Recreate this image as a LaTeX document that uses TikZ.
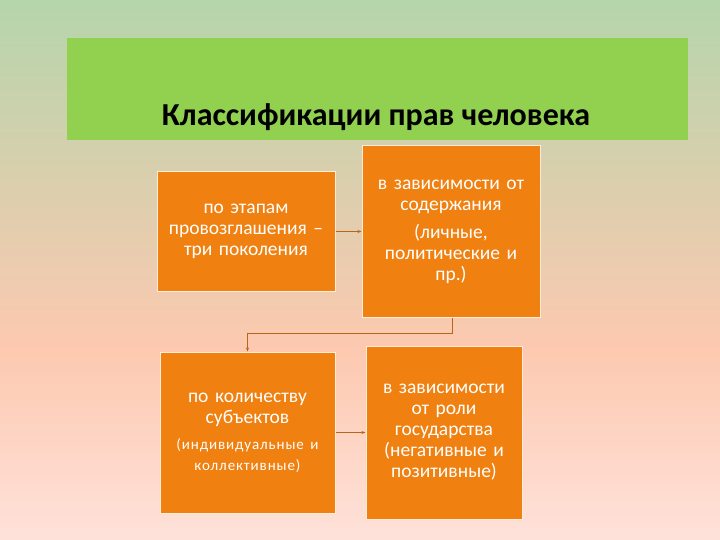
\documentclass[tikz,border=0pt]{standalone}
\usepackage{fontspec}
\setmainfont{Carlito}
\usetikzlibrary{arrows.meta}
\definecolor{bgtop}{RGB}{181,213,171}
\definecolor{bgmid}{RGB}{253,201,176}
\definecolor{bgbot}{RGB}{254,226,218}
\definecolor{banner}{RGB}{146,208,80}
\definecolor{boxfill}{RGB}{240,128,16}
\definecolor{linkcol}{RGB}{184,100,26}

\begin{document}
\begin{tikzpicture}
  [x=1pt,y=-1pt,
   every node/.style={font=\fontsize{19.5}{21}\selectfont,text=white,align=center},
   kbox/.style={rectangle,fill=boxfill,draw=white!85!orange,line width=1pt,inner sep=4pt},
   link/.style={draw=linkcol,line width=0.8pt,-{Stealth[length=4pt,width=3pt]}}]
  \shade[top color=bgtop,bottom color=bgmid] (0,0) rectangle (720,350);
  \shade[top color=bgmid,bottom color=bgbot] (0,350) rectangle (720,540);
  \fill[banner] (67,38) rectangle (688,140);
  \node[font=\bfseries\fontsize{32}{36}\selectfont,text=black] (title) at (376,117) {Классификации прав человека};

  \node[kbox,minimum width=178pt,minimum height=119pt,text width=170pt] (etap) at (246,231.5)
    {по этапам\\провозглашения –\\три поколения};
  \node[kbox,minimum width=178pt,minimum height=171pt,text width=170pt] (soder) at (451,231.5)
    {в зависимости от\\содержания\\[7pt](личные,\\политические и\\пр.)};
  \node[kbox,minimum width=175pt,minimum height=161pt,text width=167pt] (subj) at (247.5,432.5)
    {по количеству\\субъектов\\[6pt]{\fontsize{15}{20}\selectfont\addfontfeature{LetterSpace=6}(индивидуальные и\\коллективные)}};
  \node[kbox,minimum width=154pt,minimum height=173pt,text width=148pt] (rol) at (444,432.5)
    {в зависимости\\от роли\\государства\\(негативные и\\позитивные)};

  \coordinate (bend) at (452,333);
  \draw[link] (etap) -- (soder);
  \draw[link] (soder.south -| bend) -- (bend) -| (subj.north);
  \draw[link] (subj) -- (rol);
\end{tikzpicture}
\end{document}
